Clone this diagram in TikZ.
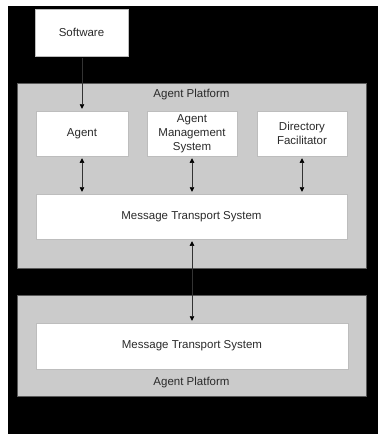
\documentclass[tikz,border=0pt]{standalone}
\usepackage{fontspec}
\setmainfont{Liberation Sans}
\usetikzlibrary{arrows.meta}
\definecolor{platfill}{HTML}{CBCBCB}
\definecolor{platedge}{HTML}{5A5A5A}
\definecolor{boxedge}{HTML}{BDBDBD}
\definecolor{txt}{HTML}{2A2A2A}
\tikzset{
  platform/.style={draw=platedge, fill=platfill, line width=0.9pt, inner sep=0pt},
  unit/.style={draw=boxedge, fill=white, line width=0.5pt, inner sep=0pt,
    align=center, text=txt, font=\fontsize{11.5}{14}\selectfont},
  caption/.style={text=txt, font=\fontsize{11.5}{14}\selectfont, inner sep=0pt},
  link/.style={draw=black!80, line width=0.4pt, shorten <=2pt, shorten >=2pt},
  tip/.style={-{Triangle[width=4.5pt,length=4.5pt,black]}},
  tips/.style={{Triangle[width=4.5pt,length=4.5pt,black]}-{Triangle[width=4.5pt,length=4.5pt,black]}}
}
\begin{document}
\begin{tikzpicture}[x=1pt,y=-1pt]
\useasboundingbox (0,0) rectangle (378,434);
\fill[white] (0,0) rectangle (378,434);
\fill[black] (8,6) rectangle (378,434);

% the two agent platforms
\node[platform, minimum width=349, minimum height=185] (plat1) at (191.5,175.5) {};
\node[platform, minimum width=349, minimum height=101] (plat2) at (191.5,345.5) {};
\node[caption] (lab1) at (191.5,95) {Agent Platform};
\node[caption] (lab2) at (191.5,383) {Agent Platform};

% components
\node[unit, minimum width=93, minimum height=47] (sw) at (81.5,32.5) {Software};
\node[unit, minimum width=92, minimum height=45] (agent) at (82,133.5) {Agent};
\node[unit, minimum width=90, minimum height=45] (ams) at (192,133.5) {Agent\\Management\\System};
\node[unit, minimum width=90, minimum height=45] (df) at (302,133.5) {Directory\\Facilitator};
\node[unit, minimum width=311, minimum height=45] (mts1) at (191.5,216.5) {Message Transport System};
\node[unit, minimum width=312, minimum height=46] (mts2) at (192,346) {Message Transport System};

% connectors
\draw[link, tip] (sw.south -| agent.north) -- (agent.north);
\draw[link, tips] (agent.south) -- (agent.south |- mts1.north);
\draw[link, tips] (ams.south) -- (ams.south |- mts1.north);
\draw[link, tips] (df.south) -- (df.south |- mts1.north);
\draw[link, tips] (mts1.south -| ams.south) -- (mts2.north -| ams.south);
\end{tikzpicture}
\end{document}
